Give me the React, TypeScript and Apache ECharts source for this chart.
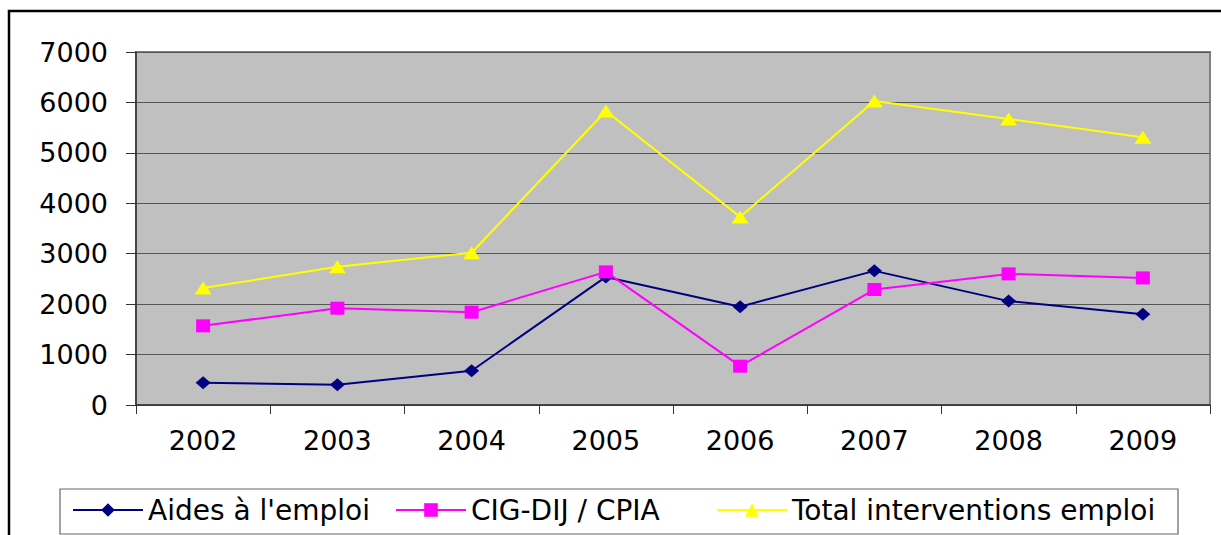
import React, { useEffect, useRef } from "react";
import * as echarts from "echarts";

const categories = ["2002", "2003", "2004", "2005", "2006", "2007", "2008", "2009"];
const aidesEmploi = [440, 400, 680, 2540, 1950, 2660, 2060, 1800];
const cigDijCpia = [1570, 1920, 1840, 2640, 770, 2290, 2600, 2520];
const totalInterventions = [2320, 2740, 3020, 5830, 3730, 6030, 5670, 5310];
const seriesNames = ["Aides à l'emploi", "CIG-DIJ / CPIA", "Total interventions emploi"];

const FONT = "DejaVu Sans";

export default function App() {
  const ref = useRef<HTMLDivElement>(null);
  useEffect(() => {
    if (!ref.current) return;
    const chart = echarts.init(ref.current, undefined, { renderer: "svg" });
    const legendLefts = [72, 395, 716];
    chart.setOption({
      animation: false,
      backgroundColor: "#ffffff",
      grid: {
        left: 136,
        top: 52,
        right: 11,
        bottom: 130,
        show: true,
        backgroundColor: "#C0C0C0",
        borderColor: "#808080",
        borderWidth: 2,
      },
      xAxis: {
        type: "category",
        data: categories,
        boundaryGap: true,
        axisLine: { show: true, lineStyle: { color: "#333333", width: 1.5 } },
        axisTick: { show: true, interval: 0, length: 9, lineStyle: { color: "#333333" } },
        axisLabel: { color: "#000000", fontFamily: FONT, fontSize: 27, margin: 22 },
        splitLine: { show: false },
      },
      yAxis: {
        type: "value",
        min: 0,
        max: 7000,
        interval: 1000,
        axisLine: { show: true, lineStyle: { color: "#333333", width: 1.5 } },
        axisTick: { show: true, length: 10, lineStyle: { color: "#333333" } },
        axisLabel: {
          color: "#000000",
          fontFamily: FONT,
          fontSize: 27,
          margin: 28,
          formatter: (v: number) => String(v),
        },
        splitLine: { show: true, lineStyle: { color: "#555555", width: 1.2 } },
      },
      legend: seriesNames.map((name, i) => ({
        data: [name],
        left: legendLefts[i],
        top: 496,
        padding: 0,
        itemWidth: 70,
        itemHeight: 17,
        textStyle: { color: "#000000", fontFamily: FONT, fontSize: 28 },
      })),
      graphic: [
        {
          type: "rect",
          shape: { x: 9, y: 11, width: 1400, height: 700 },
          style: { fill: "none", stroke: "#000000", lineWidth: 2.5 },
          silent: true,
        },
        {
          type: "rect",
          shape: { x: 60, y: 489, width: 1118, height: 45 },
          style: { fill: "none", stroke: "#666666", lineWidth: 1.2 },
          silent: true,
        },
      ],
      series: [
        {
          name: seriesNames[0],
          type: "line",
          data: aidesEmploi,
          symbol: "diamond",
          symbolSize: [15, 13],
          lineStyle: { color: "#000080", width: 2 },
          itemStyle: { color: "#000080" },
        },
        {
          name: seriesNames[1],
          type: "line",
          data: cigDijCpia,
          symbol: "rect",
          symbolSize: [14, 13],
          lineStyle: { color: "#FF00FF", width: 2 },
          itemStyle: { color: "#FF00FF" },
        },
        {
          name: seriesNames[2],
          type: "line",
          data: totalInterventions,
          symbol: "triangle",
          symbolSize: [17, 13],
          lineStyle: { color: "#FFFF00", width: 2 },
          itemStyle: { color: "#FFFF00" },
        },
      ],
    });
    return () => chart.dispose();
  }, []);
  return (
    <div
      ref={ref}
      style={{ position: "fixed", left: 0, top: 0, width: 1221, height: 535 }}
    />
  );
}
